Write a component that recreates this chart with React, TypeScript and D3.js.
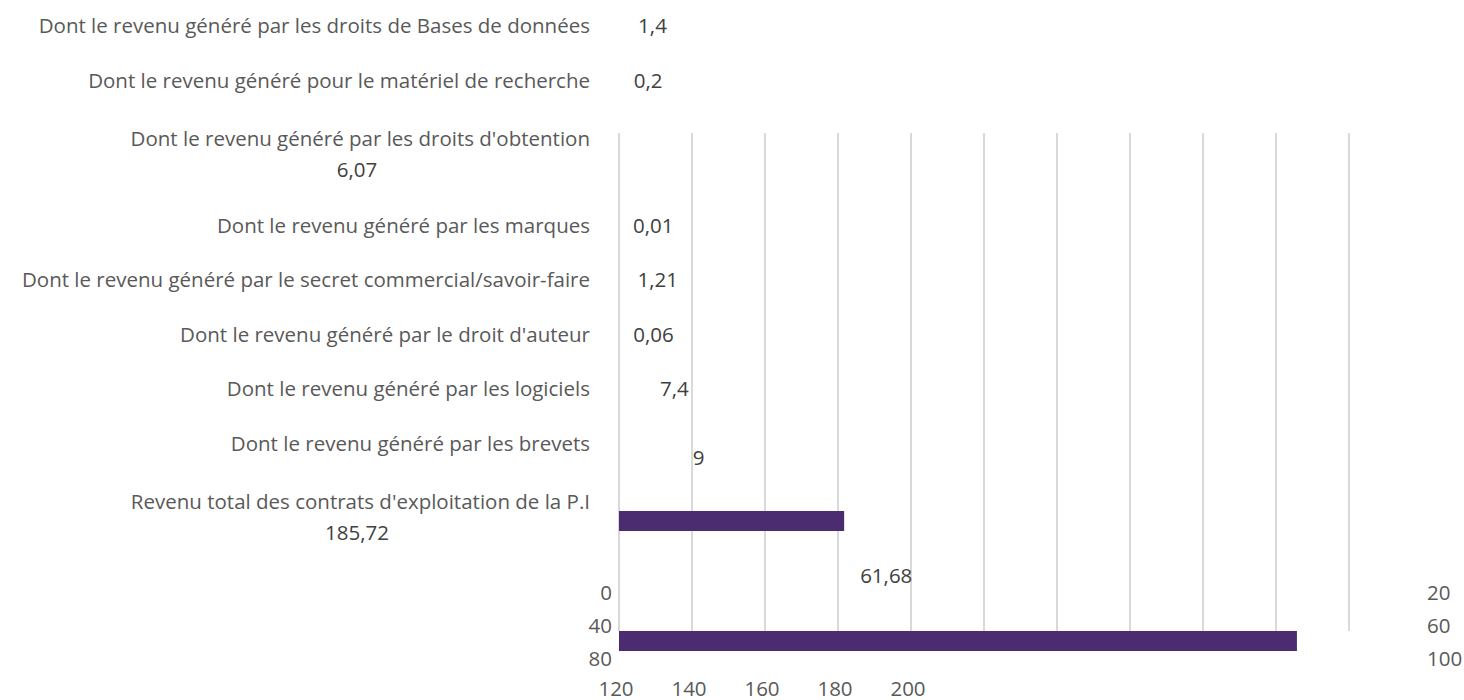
import React from 'react';
import * as d3 from 'd3';

// categories as they appear, top to bottom
const categories = [
  "Dont le revenu généré par les droits de Bases de données",
  "Dont le revenu généré pour le matériel de recherche",
  "Dont le revenu généré par les droits d'obtention",
  "Dont le revenu généré par les marques",
  "Dont le revenu généré par le secret commercial/savoir-faire",
  "Dont le revenu généré par le droit d'auteur",
  "Dont le revenu généré par les logiciels",
  "Dont le revenu généré par les brevets",
  "Revenu total des contrats d'exploitation de la P.I",
];
const values = [1.4, 0.2, 6.07, 0.01, 1.21, 0.06, 7.4, 9, 185.72];
// labels whose value drops under the category text
const wrapped = [false, false, true, false, false, false, false, false, true];

// the two bars that actually got drawn
const barValues = [61.68, 185.72];

const leftTicks = ["0", "40", "80"];
const rightTicks = ["20", "60", "100"];
const bottomTicks = ["120", "140", "160", "180", "200"];

const fmt = (v: number) => String(v).replace('.', ',');

const W = 1464;
const H = 700;
const FONT = '"Open Sans", "Noto Sans", sans-serif';
const FS = 20.5;

export default function App() {
  const x = d3.scaleLinear().domain([0, 203]).range([619, 1360]);
  const grid = d3.range(0, 201, 20);

  // row positions, wrapped labels take more room
  const rowY: number[] = [];
  let yy = 25;
  categories.forEach((c, i) => {
    if (i > 0) yy += 54.5 + (wrapped[i] ? 4 : 0) + (wrapped[i - 1] ? 32 : 0);
    rowY.push(yy);
  });

  const barY = d3.scalePoint<number>().domain([0, 1]).range([521, 641]);
  const tickRow = d3.scalePoint<number>().domain([0, 1, 2]).range([592, 658]);
  const labelRight = 590;

  return (
    <svg width={W} height={H} style={{ position: 'absolute', left: 0, top: 0, background: '#fff' }}
      fontFamily={FONT}>
      {/* gridlines */}
      {grid.map((g) => (
        <line key={g} x1={x(g)} x2={x(g)} y1={133} y2={631} stroke="#d9d9d9" strokeWidth={2} />
      ))}

      {/* bars */}
      {barValues.map((v, i) => (
        <rect key={i} x={x(0)} y={barY(i)! - 10} width={x(v) - x(0)} height={20} fill="#4b2c71" />
      ))}

      {/* category labels */}
      {categories.map((c, i) => (
        <text key={c} x={labelRight} y={rowY[i]} textAnchor="end" dominantBaseline="central"
          fontSize={FS} fill="#595959">{c}</text>
      ))}

      {/* value labels */}
      {values.map((v, i) => {
        if (wrapped[i]) {
          return (
            <text key={i} x={357} y={rowY[i] + 31} textAnchor="middle" dominantBaseline="central"
              fontSize={FS} fill="#404040">{fmt(v)}</text>
          );
        }
        const dy = i === 7 ? 14 : 0;
        const dx = i === 7 ? 41 : 14;
        return (
          <text key={i} x={x(v) + dx} y={rowY[i] + dy} textAnchor="start" dominantBaseline="central"
            fontSize={FS} fill="#404040">{fmt(v)}</text>
        );
      })}
      <text x={x(barValues[0]) + 16} y={575} textAnchor="start" dominantBaseline="central"
        fontSize={FS} fill="#404040">{fmt(barValues[0])}</text>

      {/* jumbled axis tick labels */}
      {leftTicks.map((t, i) => (
        <text key={t} x={612} y={tickRow(i)} textAnchor="end" dominantBaseline="central"
          fontSize={FS} fill="#595959">{t}</text>
      ))}
      {rightTicks.map((t, i) => (
        <text key={t} x={1427} y={tickRow(i)} textAnchor="start" dominantBaseline="central"
          fontSize={FS} fill="#595959">{t}</text>
      ))}
      {bottomTicks.map((t, i) => (
        <text key={t} x={x(grid[i]) - 3} y={688} textAnchor="middle" dominantBaseline="central"
          fontSize={FS} fill="#595959">{t}</text>
      ))}
    </svg>
  );
}
